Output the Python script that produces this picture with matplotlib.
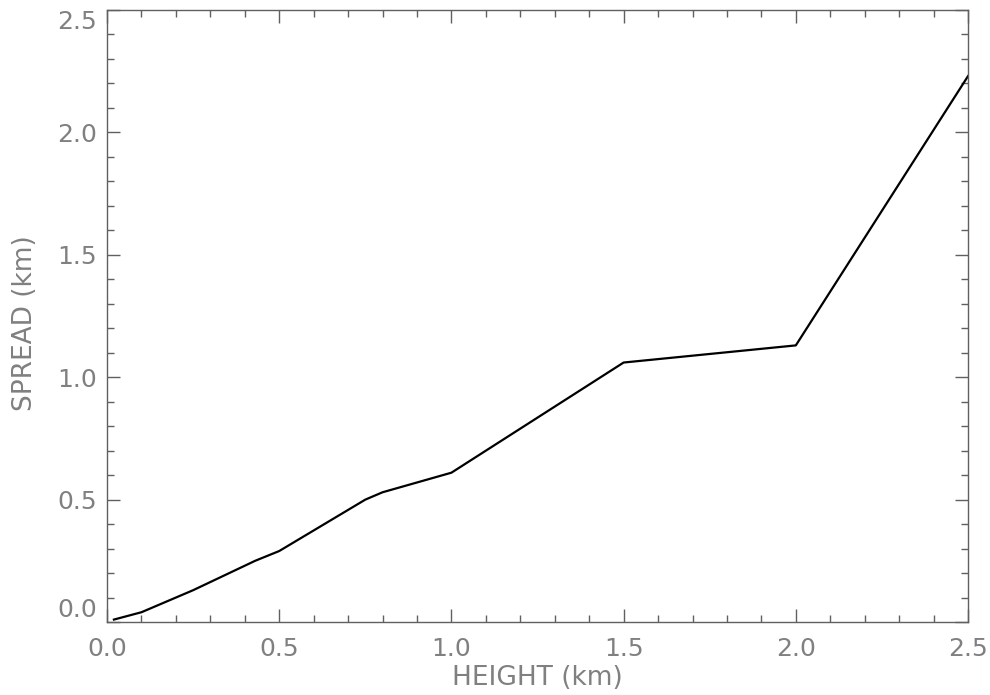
import numpy as np
import matplotlib
matplotlib.use('Agg')
import matplotlib.pyplot as plt
from matplotlib.ticker import MultipleLocator, FormatStrFormatter

# spread vs height
height = [0.02, 0.10, 0.25, 0.43, 0.50, 0.75, 0.80, 1.00, 1.50, 2.00, 2.50]
spread = [0.01, 0.04, 0.13, 0.25, 0.29, 0.50, 0.53, 0.61, 1.06, 1.13, 2.23]

axis_col = '#606060'
text_col = '#808080'

fig = plt.figure(figsize=(9.9, 6.95), dpi=100)
ax = fig.add_axes([0.1081, 0.105, 0.8697, 0.8806])

ax.plot(height, spread, color='black', lw=1.6)

ax.set_xlim(0, 2.5)
ax.set_ylim(0, 2.5)
ax.xaxis.set_major_locator(MultipleLocator(0.5))
ax.xaxis.set_minor_locator(MultipleLocator(0.1))
ax.yaxis.set_major_locator(MultipleLocator(0.5))
ax.yaxis.set_minor_locator(MultipleLocator(0.1))
ax.xaxis.set_major_formatter(FormatStrFormatter('%.1f'))
ax.yaxis.set_major_formatter(FormatStrFormatter('%.1f'))

for s in ax.spines.values():
    s.set_color(axis_col)
    s.set_linewidth(1.0)

ax.tick_params(which='both', direction='in', top=True, right=True,
               color=axis_col, labelcolor=text_col, labelsize=18)
ax.tick_params(which='major', length=9.5, width=1.0)
ax.tick_params(which='minor', length=4.7, width=1.0)
ax.tick_params(axis='x', pad=11)
ax.tick_params(axis='y', pad=7)

ax.set_xlabel('HEIGHT (km)', color=text_col, fontsize=19, labelpad=3)
ax.set_ylabel('SPREAD (km)', color=text_col, fontsize=19, labelpad=14)
ax.yaxis.label.set_y(0.489)

# end labels on the y axis sit inside the frame, like the original
fig.canvas.draw()
for t in ax.yaxis.get_major_ticks():
    if abs(t.get_loc() - 0.0) < 1e-6:
        t.label1.set_va('bottom')
    elif abs(t.get_loc() - 2.5) < 1e-6:
        t.label1.set_va('top')

fig.savefig('out.png', dpi=100)
